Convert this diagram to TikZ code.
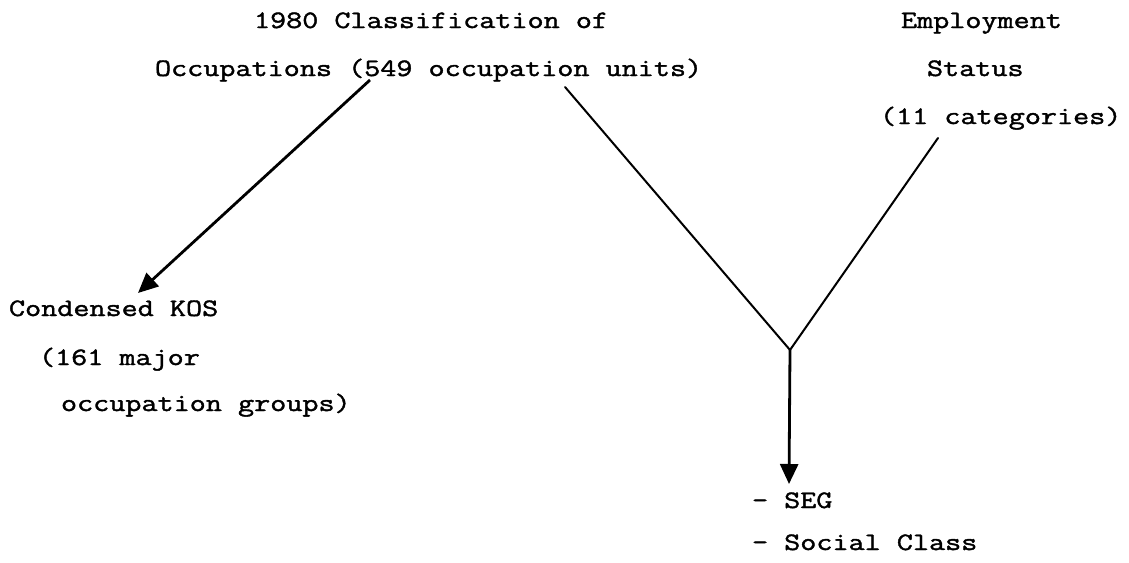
\documentclass[tikz,border=0pt]{standalone}
\usepackage{fontspec}
\setmonofont{Latin Modern Mono}[FakeStretch=1.25,FakeBold=1.6]
\usetikzlibrary{arrows.meta}
\begin{document}
\begin{tikzpicture}[x=1pt,y=-1pt,
  lbl/.style={anchor=base west,inner sep=0pt,outer sep=0pt,font=\ttfamily\fontsize{25}{30}\selectfont},
  link/.style={line width=2pt,line cap=round},
  arrowlink/.style={line width=2.8pt,-{Triangle[length=20pt,width=18pt]}}]
\useasboundingbox (0,0) rectangle (1129,562);
% texts
\node[lbl] (c1) at (254,28) {1980 Classification of};
\node[lbl] (c2) at (155,76) {Occupations (549 occupation units)};
\node[lbl] (e1) at (901,28) {Employment};
\node[lbl] (e2) at (927,76) {Status};
\node[lbl] (e3) at (880,124) {(11 categories)};
\node[lbl] (k1) at (9,316) {Condensed KOS};
\node[lbl] (k2) at (39,365) {(161 major};
\node[lbl] (k3) at (61,411) {occupation groups)};
\node[lbl] (s1) at (752,508) {- SEG};
\node[lbl] (s2) at (752,550) {- Social Class};
% connector end points
\coordinate (a0) at (370,80);
\coordinate (a1) at (138,293);
\coordinate (m0) at (565,87);
\coordinate (j) at (790,350);
\coordinate (r0) at (938,138);
\coordinate (v1) at (789,484);
% connectors
\draw[arrowlink] (a0) -- (a1);
\draw[link] (m0) -- (j) -- (r0);
\draw[arrowlink] (j) -- (v1);
\end{tikzpicture}
\end{document}
